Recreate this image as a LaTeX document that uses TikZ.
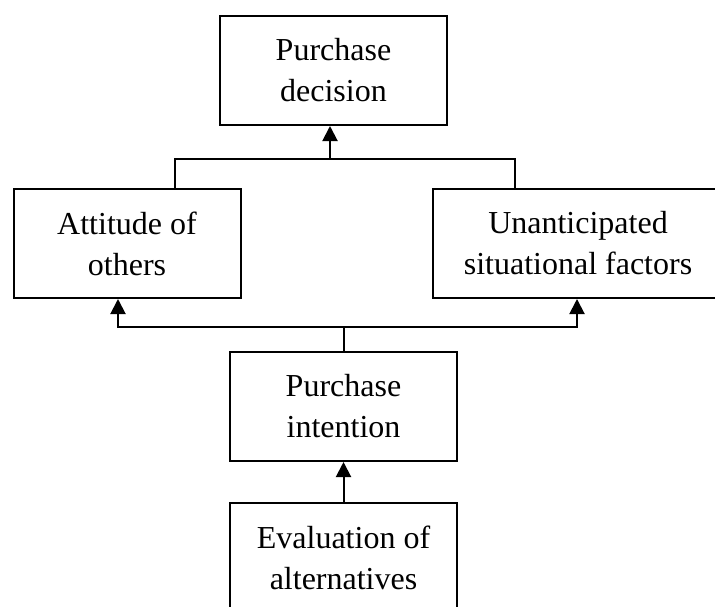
\documentclass[tikz,border=0pt]{standalone}
\usepackage{fontspec}
\setmainfont{Liberation Serif}
\usetikzlibrary{arrows.meta, positioning}
\tikzstyle{block} = [draw, fill=white, rectangle, line width=1pt, align=center,
    inner sep=0pt, minimum width=113.5pt, minimum height=54.5pt,
    font=\fontsize{16}{20.5}\selectfont]
\tikzstyle{link} = [line width=1pt]
\tikzstyle{arrow} = [line width=1pt, -{Triangle[length=7.5pt, width=7.5pt]}]

\begin{document}
\begin{tikzpicture}[x=0.5pt, y=-0.5pt]
    \useasboundingbox (0,0) rectangle (715,606);
    \clip (0,0) rectangle (715,606);

    \node [block] (dec) at (333.5,70.5) {Purchase\\decision};
    \node [block] (att) at (127,243.5) {Attitude of\\others};
    \node [block, minimum width=145pt] (unant) at (578,243.5) {Unanticipated\\situational factors};
    \node [block] (int) at (343.5,406.5) {Purchase\\intention};
    \node [block, below of=int, node distance=75.5pt] (eval) {Evaluation of\\alternatives};

    \coordinate (j1) at (330,159);
    \coordinate (j2) at (343.5,327);

    \draw [link] ([xshift=24pt]att.north) |- (j1) -| ([xshift=-31.5pt]unant.north);
    \draw [arrow] (j1) -- (dec.south -| j1);

    \draw [link] (int.north) -- (j2);
    \draw [arrow] (j2) -| ([xshift=-4.5pt]att.south);
    \draw [arrow] (j2) -| ([xshift=-0.5pt]unant.south);

    \draw [arrow] (eval) -- (int);
\end{tikzpicture}
\end{document}
